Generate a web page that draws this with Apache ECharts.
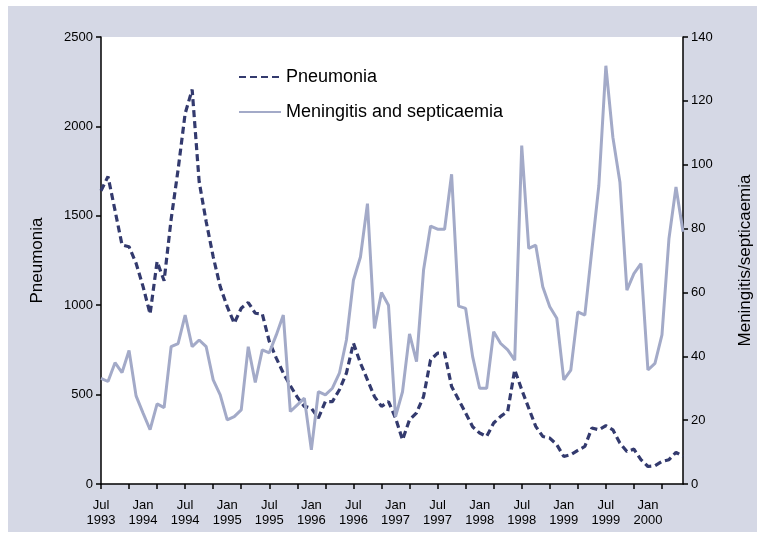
<!DOCTYPE html>
<html>
<head>
<meta charset="utf-8">
<script src="https://cdn.jsdelivr.net/npm/echarts@6/dist/echarts.min.js"></script>
<style>
    html, body { margin: 0; padding: 0; background: #fff; }
    #chart { width: 762px; height: 538px; }
</style>
</head>
<body>
<div id="chart"></div>
<script>
// monthly counts, Jul 1993 - Jun 2000
var monthNames = ['Jan', 'Feb', 'Mar', 'Apr', 'May', 'Jun', 'Jul', 'Aug', 'Sep', 'Oct', 'Nov', 'Dec'];
var startYear = 1993, startMonth = 6, monthCount = 84;

var pneumonia = [1640, 1720, 1530, 1337, 1327, 1235, 1104, 951, 1244, 1137,
    1480, 1760, 2072, 2206, 1690, 1467, 1271, 1104, 992, 899,
    983, 1015, 955, 951, 797, 704, 620, 550, 485, 434,
    424, 369, 461, 461, 527, 620, 788, 676, 583, 489,
    434, 461, 369, 247, 359, 398, 489, 694, 732, 732,
    545, 471, 397, 320, 285, 266, 341, 378, 406, 639,
    527, 424, 322, 266, 257, 220, 154, 164, 188, 210,
    313, 303, 326, 303, 229, 182, 195, 136, 98, 102,
    126, 136, 177, 154];

var meningitis = [33.1, 32.1, 38, 34.9, 41.8, 27.6, 22.2, 17, 25.1, 23.9,
    43, 44, 52.9, 43, 45.1, 43, 32.6, 27.9, 20.1, 21.1,
    23.2, 43, 31.8, 42, 41.1, 46.7, 52.9, 22.7, 24.8, 26.9,
    10.7, 28.9, 27.9, 30, 34.7, 45.1, 63.8, 71.1, 87.8, 48.7,
    60, 56, 21.1, 28.9, 47, 38.3, 67, 80.8, 79.8, 79.8,
    97, 55.7, 55, 39.9, 30, 30, 47.7, 44, 42, 38.8,
    106, 73.8, 74.8, 61.8, 55.5, 51.9, 32.6, 35.7, 53.9, 52.9,
    73.2, 93.5, 131, 108.6, 94.6, 60.7, 65.9, 69, 35.7, 37.8,
    46.7, 76.9, 93, 79];

var months = [];
for (var i = 0; i < monthCount; i++) {
    var m = (startMonth + i) % 12;
    var y = startYear + Math.floor((startMonth + i) / 12);
    months.push(monthNames[m] + '\n' + y);
}

var font = 'Liberation Sans, Arial, sans-serif';
var blackLine = {color: '#000', width: 1.5};

var chart = echarts.init(document.getElementById('chart'));
chart.setOption({
    animation: false,
    backgroundColor: '#fff',
    textStyle: {fontFamily: font},
    graphic: [{
        type: 'rect',
        z: -10,
        silent: true,
        shape: {x: 8, y: 6, width: 749, height: 526},
        style: {fill: '#d5d8e5'}
    }],
    grid: {
        left: 101, right: 71, top: 37, bottom: 54,
        show: true, backgroundColor: '#fff', borderWidth: 0
    },
    legend: {
        orient: 'vertical',
        left: 233, top: 63,
        itemWidth: 42, itemHeight: 20, itemGap: 17,
        itemStyle: {opacity: 0},
        textStyle: {fontSize: 18, color: '#000', fontFamily: font},
        data: ['Pneumonia', 'Meningitis and septicaemia']
    },
    xAxis: {
        type: 'category',
        data: months,
        boundaryGap: false,
        axisLine: {lineStyle: blackLine},
        axisTick: {interval: 3, length: 5, lineStyle: blackLine},
        axisLabel: {interval: 5, color: '#000', fontSize: 13, lineHeight: 15, margin: 14}
    },
    yAxis: [{
        type: 'value',
        min: 0, max: 2500, interval: 500,
        name: 'Pneumonia',
        nameLocation: 'middle',
        nameGap: 55,
        nameTextStyle: {fontSize: 17, color: '#000'},
        axisLine: {show: true, lineStyle: blackLine},
        axisTick: {show: true, length: 5, lineStyle: blackLine},
        axisLabel: {color: '#000', fontSize: 13, margin: 8, formatter: function (v) { return String(v); }},
        splitLine: {show: false}
    }, {
        type: 'value',
        min: 0, max: 140, interval: 20,
        name: 'Meningitis/septicaemia',
        nameLocation: 'middle',
        nameGap: 54,
        nameRotate: 90,
        nameTextStyle: {fontSize: 17, color: '#000'},
        axisLine: {show: true, lineStyle: blackLine},
        axisTick: {show: true, length: 5, lineStyle: blackLine},
        axisLabel: {color: '#000', fontSize: 13, margin: 8},
        splitLine: {show: false}
    }],
    series: [{
        name: 'Pneumonia',
        type: 'line',
        yAxisIndex: 0,
        data: pneumonia,
        symbol: 'none',
        color: '#333a6e',
        lineStyle: {color: '#333a6e', width: 3.2, type: [7, 4]}
    }, {
        name: 'Meningitis and septicaemia',
        type: 'line',
        yAxisIndex: 1,
        data: meningitis,
        symbol: 'none',
        color: '#a3aac8',
        lineStyle: {color: '#a3aac8', width: 3}
    }]
});
</script>
</body>
</html>
